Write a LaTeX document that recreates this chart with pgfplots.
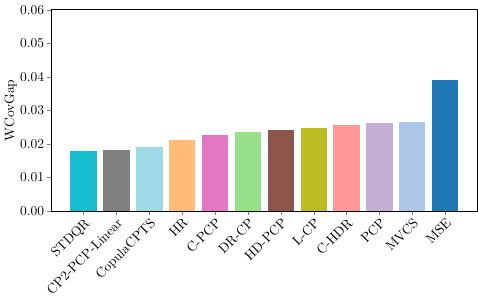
\documentclass[border=0pt]{standalone}
\usepackage{pgfplots}
\pgfplotsset{compat=1.18}
\definecolor{c1}{HTML}{17BECF}
\definecolor{c2}{HTML}{7F7F7F}
\definecolor{c3}{HTML}{9EDAE5}
\definecolor{c4}{HTML}{FFBB78}
\definecolor{c5}{HTML}{E377C2}
\definecolor{c6}{HTML}{98DF8A}
\definecolor{c7}{HTML}{8C564B}
\definecolor{c8}{HTML}{BCBD22}
\definecolor{c9}{HTML}{FF9896}
\definecolor{c10}{HTML}{C5B0D5}
\definecolor{c11}{HTML}{AEC7E8}
\definecolor{c12}{HTML}{1F77B4}
\begin{document}
\begin{tikzpicture}
\begin{axis}[
  scale only axis,
  width=316pt, height=149pt,
  xmin=-0.99, xmax=11.99,
  ymin=0, ymax=0.06,
  ytick={0,0.01,0.02,0.03,0.04,0.05,0.06},
  yticklabel style={/pgf/number format/fixed, /pgf/number format/fixed zerofill, /pgf/number format/precision=2, inner sep=2pt},
  scaled y ticks=false,
  xtick={0,1,2,3,4,5,6,7,8,9,10,11},
  xticklabels={STDQR,CP2-PCP-Linear,CopulaCPTS,HR,C-PCP,DR-CP,HD-PCP,L-CP,C-HDR,PCP,MVCS,MSE},
  xticklabel style={rotate=45, anchor=north east, inner sep=1pt},
  tick align=outside,
  xtick pos=bottom, ytick pos=left,
  major tick length=3pt,
  ylabel={WCovGap},
  ylabel style={yshift=-3pt},
  ybar, bar width=0.8,
  every axis plot/.append style={bar shift=0pt, draw=none},
]
\addplot[fill=c1] coordinates {(0,0.0178)};
\addplot[fill=c2] coordinates {(1,0.0183)};
\addplot[fill=c3] coordinates {(2,0.0190)};
\addplot[fill=c4] coordinates {(3,0.0212)};
\addplot[fill=c5] coordinates {(4,0.0225)};
\addplot[fill=c6] coordinates {(5,0.0236)};
\addplot[fill=c7] coordinates {(6,0.0240)};
\addplot[fill=c8] coordinates {(7,0.0246)};
\addplot[fill=c9] coordinates {(8,0.0255)};
\addplot[fill=c10] coordinates {(9,0.0263)};
\addplot[fill=c11] coordinates {(10,0.0265)};
\addplot[fill=c12] coordinates {(11,0.0389)};
\end{axis}
\path (current bounding box.north) ++(0,2pt);
\end{tikzpicture}
\end{document}
